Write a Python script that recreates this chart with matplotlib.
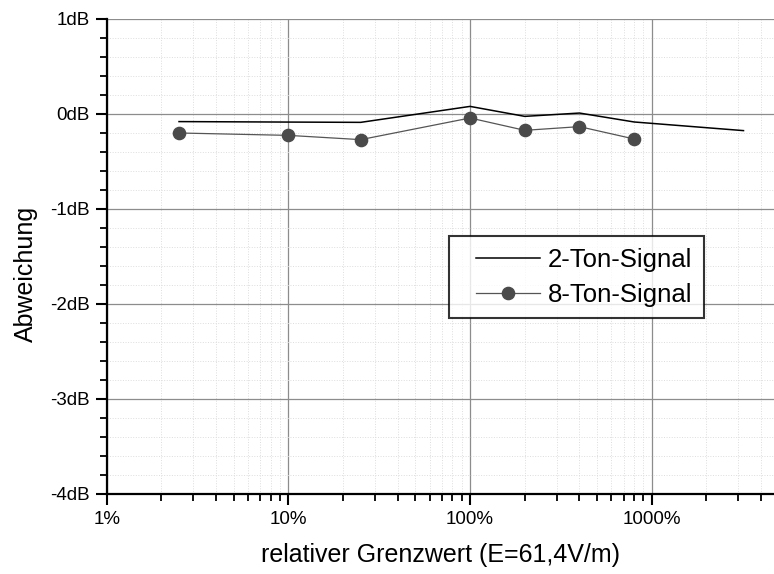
"""Abweichung über relativem Grenzwert für 2-Ton- und 8-Ton-Signal."""

import matplotlib
matplotlib.use("Agg")
import matplotlib.pyplot as plt
from matplotlib.legend_handler import HandlerLine2D
from matplotlib.ticker import FixedLocator, LogLocator, NullFormatter

plt.rcParams["font.family"] = ["Liberation Sans", "DejaVu Sans"]

# relativer Grenzwert in %
x_2ton = [2.5, 10, 25, 100, 200, 400, 800, 3200]
y_2ton = [-0.08, -0.085, -0.088, 0.08, -0.025, 0.01, -0.084, -0.175]

x_8ton = [2.5, 10, 25, 100, 200, 400, 800]
y_8ton = [-0.20, -0.225, -0.27, -0.042, -0.172, -0.133, -0.263]

x_ticks = [1, 10, 100, 1000]
x_labels = ["1%", "10%", "100%", "1000%"]
y_ticks = [1, 0, -1, -2, -3, -4]
y_labels = ["1dB", "0dB", "-1dB", "-2dB", "-3dB", "-4dB"]

fig = plt.figure(figsize=(7.74, 5.74), dpi=100)
ax = fig.add_axes([0.1379, 0.1394, 0.8621, 0.8275])

l2, = ax.plot(x_2ton, y_2ton, color="black", linewidth=1.1, label="2-Ton-Signal", zorder=3)
l8, = ax.plot(x_8ton, y_8ton, color="#555555", linewidth=0.9, marker="o",
              markersize=8.8, markerfacecolor="#4a4a4a", markeredgecolor="#4a4a4a",
              label="8-Ton-Signal", zorder=3)

ax.set_xscale("log")
ax.set_xlim(1, 4710)
ax.set_ylim(-4, 1)

ax.set_xticks(x_ticks)
ax.set_xticklabels(x_labels)
ax.xaxis.set_minor_locator(LogLocator(base=10, subs=range(2, 10), numticks=20))
ax.xaxis.set_minor_formatter(NullFormatter())

ax.set_yticks(y_ticks)
ax.set_yticklabels(y_labels)
ax.yaxis.set_minor_locator(FixedLocator([v / 5 for v in range(-20, 6)]))

ax.tick_params(which="major", direction="out", length=8, width=1.5,
               labelsize=13.5, pad=4)
ax.tick_params(which="minor", direction="out", length=5, width=1.3)
ax.tick_params(top=False, right=False)

for side in ("top", "right"):
    ax.spines[side].set_visible(False)
for side in ("left", "bottom"):
    ax.spines[side].set_linewidth(1.6)

ax.grid(which="major", color="#8c8c8c", linewidth=0.9, linestyle="-", zorder=0)
ax.grid(which="minor", color="#dddddd", linewidth=0.7, linestyle=":", zorder=0)
ax.set_axisbelow(True)

ax.set_xlabel("relativer Grenzwert (E=61,4V/m)", fontsize=18, labelpad=11)
ax.set_ylabel("Abweichung", fontsize=18)
ax.yaxis.set_label_coords(-0.103, 0.463)

# Handles etwas nach rechts eingerückt
pad_handler = {l2: HandlerLine2D(xpad=0.6), l8: HandlerLine2D(xpad=0.6)}
leg = ax.legend(handles=[l2, l8], handler_map=pad_handler,
                loc="upper left", bbox_to_anchor=(0.513, 0.543), fontsize=18.5,
                frameon=True, fancybox=False, edgecolor="black",
                handlelength=3.1, handletextpad=0.31, borderpad=0.45,
                labelspacing=0.44, borderaxespad=0)
leg.get_frame().set_linewidth(1.5)

fig.savefig("out.png", dpi=100)
